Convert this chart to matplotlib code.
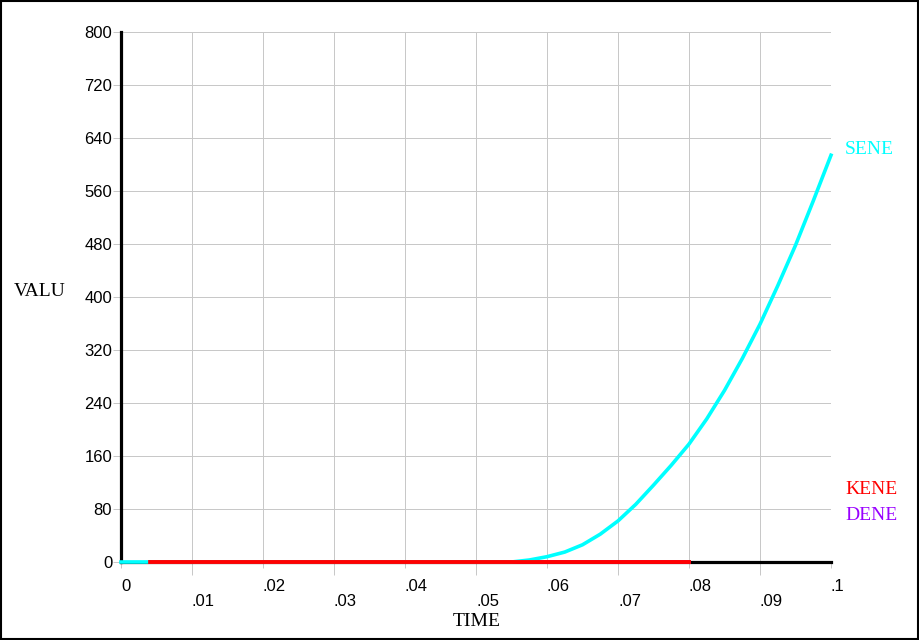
import numpy as np
import matplotlib
matplotlib.use("Agg")
import matplotlib.pyplot as plt
from matplotlib.patches import Rectangle

# values
sene_time = [0, 0.0041, 0.05, 0.055, 0.0575, 0.06, 0.0625, 0.065, 0.0675, 0.07,
             0.0725, 0.075, 0.0775, 0.08, 0.0825, 0.085, 0.0875, 0.09, 0.0925,
             0.095, 0.0975, 0.1]
sene_vals = [0, 0, 0, 0, 3, 8, 15, 26, 42, 62,
             87, 116, 146, 178, 216, 259, 307, 359, 417,
             478, 545, 614]
kene_time = [0.0041, 0.08]
kene_vals = [0, 0]
dene_time = [0.0041, 0.08]
dene_vals = [0, 0]

x_major = [0, 0.02, 0.04, 0.06, 0.08, 0.1]
x_major_labels = ["0", ".02", ".04", ".06", ".08", ".1"]
x_minor = [0.01, 0.03, 0.05, 0.07, 0.09]
x_minor_labels = [".01", ".03", ".05", ".07", ".09"]
y_ticks = [0, 80, 160, 240, 320, 400, 480, 560, 640, 720, 800]

grid_col = "#c8c8c8"
tick_font = "Liberation Sans"
label_font = "Liberation Serif"

fig = plt.figure(figsize=(9.2, 6.4), dpi=100)
fig.patch.set_facecolor("white")
ax = fig.add_axes([121/920, 78/640, 710/920, 530/640])

ax.plot(dene_time, dene_vals, color="#9900ff", lw=2.6, clip_on=False, zorder=3,
        snap=False)
ax.plot(sene_time, sene_vals, color="#00ffff", lw=2.6, clip_on=False, zorder=4,
        solid_joinstyle="round", snap=False)
ax.plot(kene_time, kene_vals, color="#ff0000", lw=2.8, clip_on=False, zorder=5,
        snap=False)

ax.set_xlim(0, 0.1)
ax.set_ylim(0, 800)

ax.set_xticks(x_major)
ax.set_xticklabels(x_major_labels, ha="left", fontfamily=tick_font, fontsize=12)
ax.set_xticks(x_minor, minor=True)
ax.set_xticklabels(x_minor_labels, minor=True, ha="left", fontfamily=tick_font, fontsize=12)
ax.set_yticks(y_ticks)
ax.set_yticklabels([str(v) for v in y_ticks], fontfamily=tick_font, fontsize=12)

ax.tick_params(axis="x", which="major", length=4.3, width=0.72, color=grid_col, pad=8.2)
ax.tick_params(axis="x", which="minor", length=9.4, width=0.72, color=grid_col, pad=14.0)
ax.tick_params(axis="y", which="major", length=5.8, width=0.72, color=grid_col, pad=0.5)

ax.grid(True, which="both", axis="x", color=grid_col, lw=0.72, zorder=0)
ax.grid(True, which="major", axis="y", color=grid_col, lw=0.72, zorder=0)
ax.set_axisbelow(True)

for s in ["top", "right"]:
    ax.spines[s].set_visible(False)
for s in ["left", "bottom"]:
    ax.spines[s].set_linewidth(2.3)
    ax.spines[s].set_color("black")

fig.text(14/920, 1 - 291/640, "VALU", fontfamily=label_font, fontsize=14,
         ha="left", va="center")
fig.text(477/920, 1 - 622/640, "TIME", fontfamily=label_font, fontsize=14,
         ha="center", va="center")
fig.text(845/920, 1 - 149/640, "SENE", fontfamily=label_font, fontsize=14,
         color="#00ffff", ha="left", va="center")
fig.text(845/920, 1 - 489/640, "KENE", fontfamily=label_font, fontsize=14,
         color="#ff0000", ha="left", va="center")
fig.text(845/920, 1 - 515/640, "DENE", fontfamily=label_font, fontsize=14,
         color="#9900ff", ha="left", va="center")

fig.add_artist(Rectangle((0.001, 0.002), 0.997, 0.996, transform=fig.transFigure,
                         fill=False, edgecolor="black", lw=1.5))

fig.savefig("out.png", dpi=100)
